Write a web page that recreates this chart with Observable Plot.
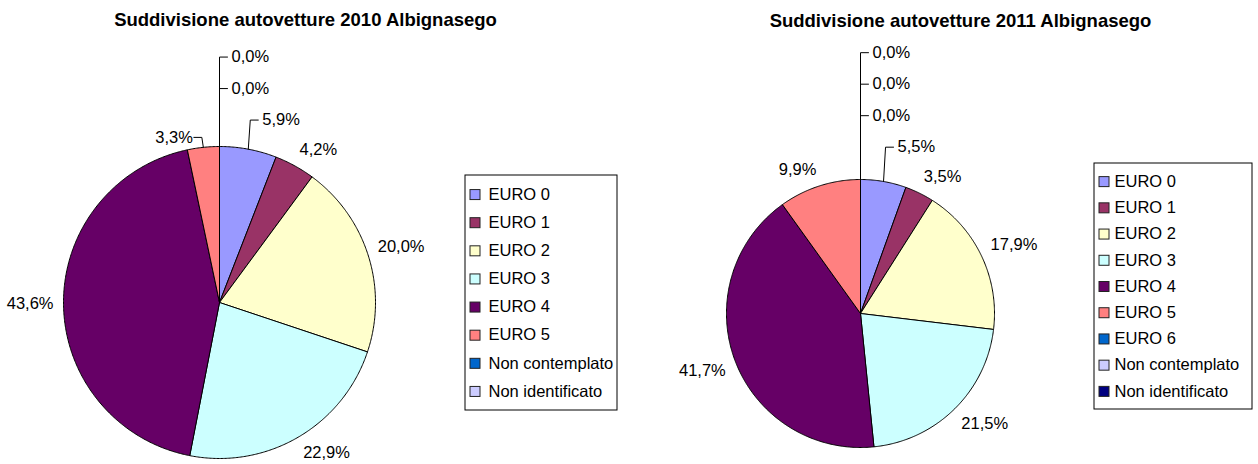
<!DOCTYPE html>
<html>
<head>
<meta charset="utf-8">
<script src="https://cdn.jsdelivr.net/npm/d3@7"></script>
<script src="https://cdn.jsdelivr.net/npm/@observablehq/plot@0.6"></script>
<style>
  html, body { margin: 0; padding: 0; background: #ffffff; }
  #chart svg { display: block; }
</style>
</head>
<body>
<div id="chart"></div>
<script>
// ---------- DATA ----------
const title2010 = "Suddivisione autovetture 2010 Albignasego";
const categories2010 = ["EURO 0", "EURO 1", "EURO 2", "EURO 3", "EURO 4", "EURO 5", "Non contemplato", "Non identificato"];
const values2010 = [5.9, 4.2, 20.0, 22.9, 43.6, 3.3, 0.0, 0.0];

const title2011 = "Suddivisione autovetture 2011 Albignasego";
const categories2011 = ["EURO 0", "EURO 1", "EURO 2", "EURO 3", "EURO 4", "EURO 5", "EURO 6", "Non contemplato", "Non identificato"];
const values2011 = [5.5, 3.5, 17.9, 21.5, 41.7, 9.9, 0.0, 0.0, 0.0];

// ---------- STYLE / LAYOUT ----------
const palette = ["#9999FF", "#993366", "#FFFFCC", "#CCFFFF", "#660066", "#FF8080", "#0066CC", "#CCCCFF", "#000080"];
const W = 1258, H = 464;
const FONT = "Liberation Sans, Arimo, Arial, Helvetica, sans-serif";

const charts = [
  {cats: categories2010, vals: values2010, title: title2010, cx: 219, cy: 302, r: 156, titleX: 305, titleY: 19.5,
   legend: {x1: 465, x2: 617, y1: 175, y2: 410, tx: 23}},
  {cats: categories2011, vals: values2011, title: title2011, cx: 860, cy: 313, r: 134, titleX: 960, titleY: 21,
   legend: {x1: 1094, x2: 1252, y1: 163, y2: 409, tx: 20}}
];

const fmt = v => v.toFixed(1).replace(".", ",") + "%";
const clamp = (v, a, b) => Math.max(a, Math.min(b, v));
const TAU = 2 * Math.PI;
const DEG = Math.PI / 180;

const slicePts = [], labels = [], leaderPts = [], boxes = [], swatches = [], legendTexts = [], titles = [];

charts.forEach((c, ci) => {
  const arcs = d3.pie().sort(null).value(v => v)(c.vals);
  const P = (R, th) => ({x: c.cx + R * Math.sin(th), y: c.cy - R * Math.cos(th)});
  const stack = [];
  let firstNormal = null;
  arcs.forEach((a, i) => {
    const v = c.vals[i];
    const key = ci + "-" + i;
    if (v > 0) {
      const n = Math.max(2, Math.ceil((a.endAngle - a.startAngle) / (0.5 * DEG)));
      slicePts.push({key, fill: palette[i], x: c.cx, y: c.cy});
      for (let k = 0; k <= n; k++) {
        const th = a.startAngle + (a.endAngle - a.startAngle) * k / n;
        const p = P(c.r, th);
        slicePts.push({key, fill: palette[i], x: p.x, y: p.y});
      }
      slicePts.push({key, fill: palette[i], x: c.cx, y: c.cy});
    }
    const th = ((a.startAngle + a.endAngle) / 2) % TAU;
    const text = fmt(v);
    if (v === 0 || th <= 15 * DEG) {
      stack.push({i, v, th: v === 0 ? 0 : th, text});
    } else if (th >= 345 * DEG) {
      const E = P(c.r, th);
      const y = c.cy - (c.r + 10) * Math.cos(th);
      const ex = E.x - 1.5;
      leaderPts.push({key: key, x: E.x, y: E.y}, {key: key, x: ex, y}, {key: key, x: ex - 8, y});
      labels.push({x: ex - 9, y, text, anchor: "end"});
    } else {
      const p = P(c.r + 10, th);
      const s = Math.sin(th);
      const anchor = s > 0.15 ? "start" : s < -0.15 ? "end" : "middle";
      const lab = {x: p.x, y: p.y - 7 * clamp(2.5 * Math.cos(th), -1, 1), text, anchor};
      labels.push(lab);
      if (!firstNormal) firstNormal = lab;
    }
  });
  stack.sort((A, B) => (B.v > 0) - (A.v > 0) || A.i - B.i);
  const stackBottom = firstNormal ? firstNormal.y - 30 : c.cy - c.r - 31;
  stack.forEach((d, k) => {
    const key = ci + "-s" + d.i;
    const E = P(c.r, d.th);
    const y = stackBottom - 31.5 * k;
    const ex = E.x + (d.v > 0 ? 2 : 0);
    leaderPts.push({key, x: E.x, y: E.y}, {key, x: ex, y}, {key, x: ex + 8, y});
    labels.push({x: ex + 12, y, text: d.text, anchor: "start"});
  });

  const L = c.legend;
  boxes.push(L);
  const n = c.cats.length;
  const step = (L.y2 - L.y1 - 10) / n;
  c.cats.forEach((cat, i) => {
    const ry = L.y1 + 5 + (i + 0.5) * step;
    swatches.push({x1: L.x1 + 5, x2: L.x1 + 15, y1: ry - 4.5, y2: ry + 5.5, fill: palette[i]});
    legendTexts.push({x: L.x1 + L.tx, y: ry, text: cat});
  });
  titles.push({x: c.titleX, y: c.titleY, text: c.title});
});

const textOpts = {fontFamily: FONT, fontSize: 16.5, fill: "#000", lineAnchor: "middle"};

const plot = Plot.plot({
  width: W,
  height: H,
  margin: 0,
  x: {domain: [0, W], range: [0, W], axis: null},
  y: {domain: [0, H], range: [0, H], axis: null},
  color: {type: "identity"},
  style: {fontFamily: FONT, background: "#ffffff", color: "#000"},
  marks: [
    Plot.rect(boxes, {x1: "x1", x2: "x2", y1: "y1", y2: "y2", fill: "#ffffff", stroke: "#000", strokeWidth: 1}),
    Plot.line(slicePts, {x: "x", y: "y", z: "key", fill: "fill", stroke: "#000", strokeWidth: 1, strokeLinejoin: "round", curve: "linear"}),
    Plot.line(leaderPts, {x: "x", y: "y", z: "key", stroke: "#000", strokeWidth: 1, fill: "none", curve: "linear"}),
    Plot.text(labels.filter(d => d.anchor === "start"), {x: "x", y: "y", text: "text", textAnchor: "start", ...textOpts}),
    Plot.text(labels.filter(d => d.anchor === "end"), {x: "x", y: "y", text: "text", textAnchor: "end", ...textOpts}),
    Plot.text(labels.filter(d => d.anchor === "middle"), {x: "x", y: "y", text: "text", textAnchor: "middle", ...textOpts}),
    Plot.rect(swatches, {x1: "x1", x2: "x2", y1: "y1", y2: "y2", fill: "fill", stroke: "#222", strokeWidth: 1}),
    Plot.text(legendTexts, {x: "x", y: "y", text: "text", textAnchor: "start", ...textOpts}),
    Plot.text(titles, {x: "x", y: "y", text: "text", textAnchor: "middle", fontFamily: FONT, fontSize: 18.5, fontWeight: "bold", fill: "#000", lineAnchor: "middle"})
  ]
});
document.getElementById("chart").appendChild(plot);
</script>
</body>
</html>
